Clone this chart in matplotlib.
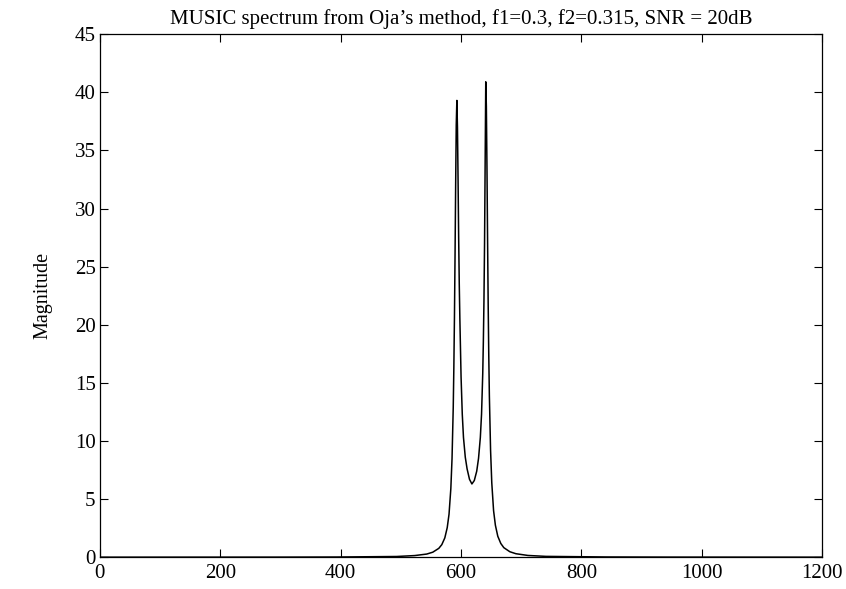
import matplotlib
matplotlib.use("Agg")
import matplotlib.pyplot as plt

# Frequency bin index (x) and MUSIC spectrum magnitude (y)
freq_bin = [0, 293, 393, 493, 523, 543, 553, 563, 568, 573, 577, 580, 583, 585,
            587, 588, 589, 590, 591, 592, 593, 594, 595, 596, 597, 598, 600, 602,
            604, 607, 610, 614, 618, 622, 626, 629, 632, 634, 636, 637, 638, 639,
            640, 641, 642, 643, 644, 645, 646, 647, 649, 651, 654, 657, 661, 666,
            671, 681, 691, 711, 741, 841, 941, 1200]
magnitude = [0.002, 0.006, 0.015, 0.06, 0.14, 0.27, 0.43, 0.76, 1.08, 1.66, 2.54,
             3.7, 5.9, 8.5, 12.9, 16.3, 20.6, 26.0, 32.0, 37.2, 39.3, 37.0, 32.5,
             27.5, 23.5, 20.5, 15.5, 12.3, 10.3, 8.6, 7.6, 6.7, 6.3, 6.6, 7.4, 8.5,
             10.3, 12.3, 15.8, 18.5, 22.0, 27.0, 34.0, 40.9, 38.8, 33.6, 27.5, 21.9,
             17.4, 13.9, 9.2, 6.4, 4.0, 2.75, 1.8, 1.18, 0.82, 0.47, 0.30, 0.15,
             0.07, 0.02, 0.008, 0.002]

x_ticks = [0, 200, 400, 600, 800, 1000, 1200]
y_ticks = [0, 5, 10, 15, 20, 25, 30, 35, 40, 45]
title = "MUSIC spectrum from Oja\u2019s method, f1=0.3, f2=0.315, SNR = 20dB"
ylabel = "Magnitude"

plt.rcParams["font.family"] = ["Liberation Serif", "DejaVu Serif"]

fig = plt.figure(figsize=(8.46, 5.89), dpi=100)
ax = fig.add_axes([0.118, 0.054, 0.854, 0.888])
ax.plot(freq_bin, magnitude, color="black", linewidth=1.1)

ax.set_xlim(0, 1200)
ax.set_ylim(0, 45)
ax.set_xticks(x_ticks)
ax.set_yticks(y_ticks)
ax.tick_params(direction="in", top=True, right=True, length=6, width=0.8,
               labelsize=15, pad=3)
ax.tick_params(axis="x", pad=5)
for s in ax.spines.values():
    s.set_linewidth(0.9)
ax.set_title(title, fontsize=15, pad=7)
ax.set_ylabel(ylabel, fontsize=14.5, labelpad=16)

fig.savefig("out.png", dpi=100, facecolor="white")
